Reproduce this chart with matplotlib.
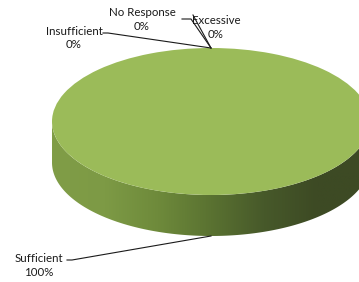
import numpy as np
import matplotlib
matplotlib.use("Agg")
import matplotlib.pyplot as plt
from matplotlib.patches import Polygon
from matplotlib.colors import LinearSegmentedColormap

# data
categories = ["Sufficient", "Insufficient", "No Response", "Excessive"]
values = [100, 0, 0, 0]
pct_labels = ["100%", "0%", "0%", "0%"]

W, H = 359, 282
fig = plt.figure(figsize=(W / 100, H / 100), dpi=100)

# pie axes covers the ellipse box (it runs off the right edge like the original)
depth = 0.558
left, right, top, bottom = 52, 370, 48, 236
ax = fig.add_axes([left / W, 1 - bottom / H, (right - left) / W, (bottom - top) / H])

top_color = "#9bbb59"
wedges, _ = ax.pie(values, startangle=90, counterclock=False, radius=1,
                   colors=[top_color, "#c0504d", "#4f81bd", "#8064a2"],
                   wedgeprops=dict(linewidth=0))
ax.set_aspect("auto")
ax.set_xlim(-1, 1)
ax.set_ylim(-1 - depth, 1)
ax.axis("off")

# side of the 3d pie: front half of the ellipse, shaded with a gradient
t = np.linspace(np.pi, 2 * np.pi, 200)
upper = np.column_stack([np.cos(t), np.sin(t)])
lower = np.column_stack([np.cos(t[::-1]), np.sin(t[::-1]) - depth])
side = Polygon(np.vstack([upper, lower]), closed=True, facecolor="none", edgecolor="none")
ax.add_patch(side)
side_cmap = LinearSegmentedColormap.from_list(
    "side", ["#809d47", "#7d9a45", "#6e8a3b", "#5a7231", "#47592a", "#3d4a24", "#3d4a24"])
grad = np.linspace(0, 1, 256).reshape(1, -1)
im = ax.imshow(grad, cmap=side_cmap, aspect="auto", extent=[-1, 1, -1 - depth, 0.05],
               zorder=0.5)
im.set_clip_path(side)
for w in wedges:
    w.set_zorder(1)

# overlay in image pixel coordinates for labels and leader lines
ov = fig.add_axes([0, 0, 1, 1])
ov.set_xlim(0, W)
ov.set_ylim(H, 0)
ov.axis("off")
ov.patch.set_alpha(0)


def pie_to_px(x, y):
    fx, fy = ax.transData.transform((x, y))
    return ov.transData.inverted().transform((fx, fy))


top_pt = pie_to_px(0, 1)
bot_pt = pie_to_px(0, -1 - depth)

label_pos = {
    "Sufficient": (38.5, 265.5),
    "Insufficient": (74, 38),
    "No Response": (142, 19.5),
    "Excessive": (216, 27.5),
}
leader = {
    "Sufficient": ([67, 72], [260, 260], bot_pt),
    "Insufficient": ([103, 108], [33, 33], top_pt),
    "No Response": ([182, 191], [19, 19], top_pt),
    "Excessive": ([193, 193], [15, 15], top_pt),
}

for cat, pct in zip(categories, pct_labels):
    x, y = label_pos[cat]
    ov.text(x, y, cat + "\n" + pct, ha="center", va="center", fontsize=8.3,
            family="Lato", color="#1a1a1a", linespacing=1.25)
    xs, ys, end = leader[cat]
    ov.plot(xs + [end[0]], ys + [end[1]], color="#1a1a1a", lw=0.8)

fig.savefig("out.png", dpi=100)
